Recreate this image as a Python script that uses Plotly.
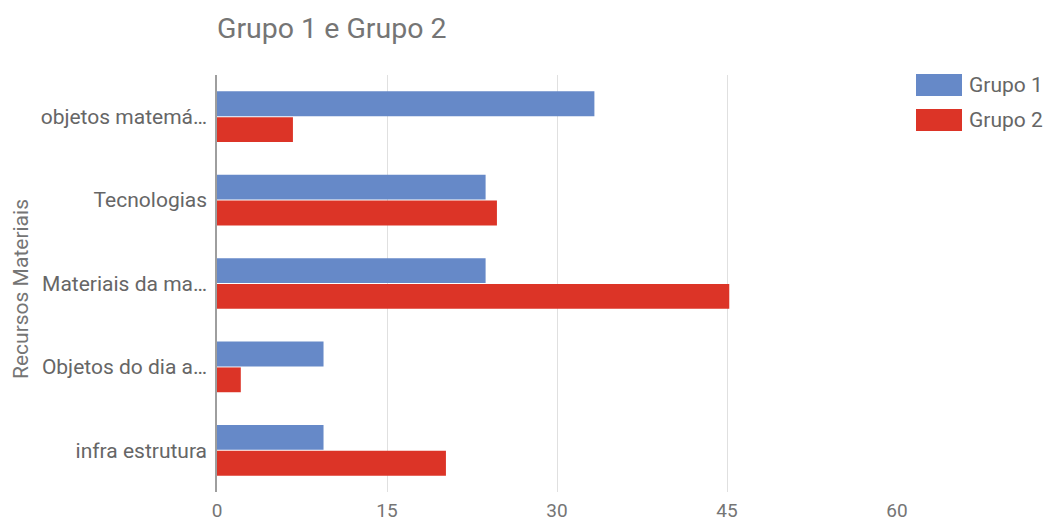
import plotly.graph_objects as go

categories = ["objetos matemá…", "Tecnologias", "Materiais da ma…", "Objetos do dia a…", "infra estrutura"]
grupo1 = [33.3, 23.7, 23.7, 9.4, 9.4]
grupo2 = [6.7, 24.7, 45.2, 2.1, 20.2]
series_names = ["Grupo 1", "Grupo 2"]
colors = ["#6689C8", "#DC3427"]
x_ticks = [0, 15, 30, 45, 60]

W, H = 1049, 524
L, R, T, B = 217, 152, 75, 32
plot_w = W - L - R
plot_h = H - T - B

fig = go.Figure()
for name, vals, col in zip(series_names, [grupo1, grupo2], colors):
    fig.add_trace(go.Bar(
        y=categories, x=vals, name=name, orientation="h",
        marker=dict(color=col, line=dict(width=0)),
        showlegend=False,
    ))

# Legend drawn as swatches + labels at the top right
def px_x(p):
    return (p - L) / plot_w

def px_y(p):
    return 1 - (p - T) / plot_h

legend_rows = [85, 120]
for name, col, yc in zip(series_names, colors, legend_rows):
    fig.add_shape(type="rect", xref="paper", yref="paper",
                  x0=px_x(916), x1=px_x(962), y0=px_y(yc + 11), y1=px_y(yc - 11),
                  fillcolor=col, line=dict(width=0))
    fig.add_annotation(xref="paper", yref="paper", x=px_x(967), y=px_y(yc),
                       text=name, showarrow=False, xanchor="left", yanchor="middle",
                       font=dict(family="Roboto", size=21, color="#666666"))

fig.add_annotation(xref="paper", yref="paper", x=px_x(21), y=px_y(289),
                   text="Recursos Materiais", textangle=-90, showarrow=False,
                   xanchor="center", yanchor="middle",
                   font=dict(family="Roboto", size=21, color="#757575"))

fig.update_layout(
    width=W, height=H,
    margin=dict(l=L, r=R, t=T, b=B, autoexpand=False),
    paper_bgcolor="white", plot_bgcolor="white",
    barmode="group", bargap=0.38, bargroupgap=0.04,
    title=dict(text="Grupo 1 e Grupo 2", x=L / W, xanchor="left", y=1 - 28 / H, yanchor="middle",
               font=dict(family="Roboto", size=28.5, color="#757575")),
    font=dict(family="Roboto", color="#616161"),
    xaxis=dict(range=[0, 60], tickvals=x_ticks, showgrid=True, gridcolor="#E0E0E0", gridwidth=1,
               zeroline=False, showline=False, ticks="", automargin=False, ticklabelstandoff=5,
               tickfont=dict(family="Roboto", size=19, color="#757575")),
    yaxis=dict(autorange="reversed", showline=True, linecolor="#9E9E9E", linewidth=1.5,
               showgrid=False, ticks="", ticklabelstandoff=4, automargin=False,
               tickfont=dict(family="Roboto", size=21, color="#666666")),
)

fig.write_html("out.html")
